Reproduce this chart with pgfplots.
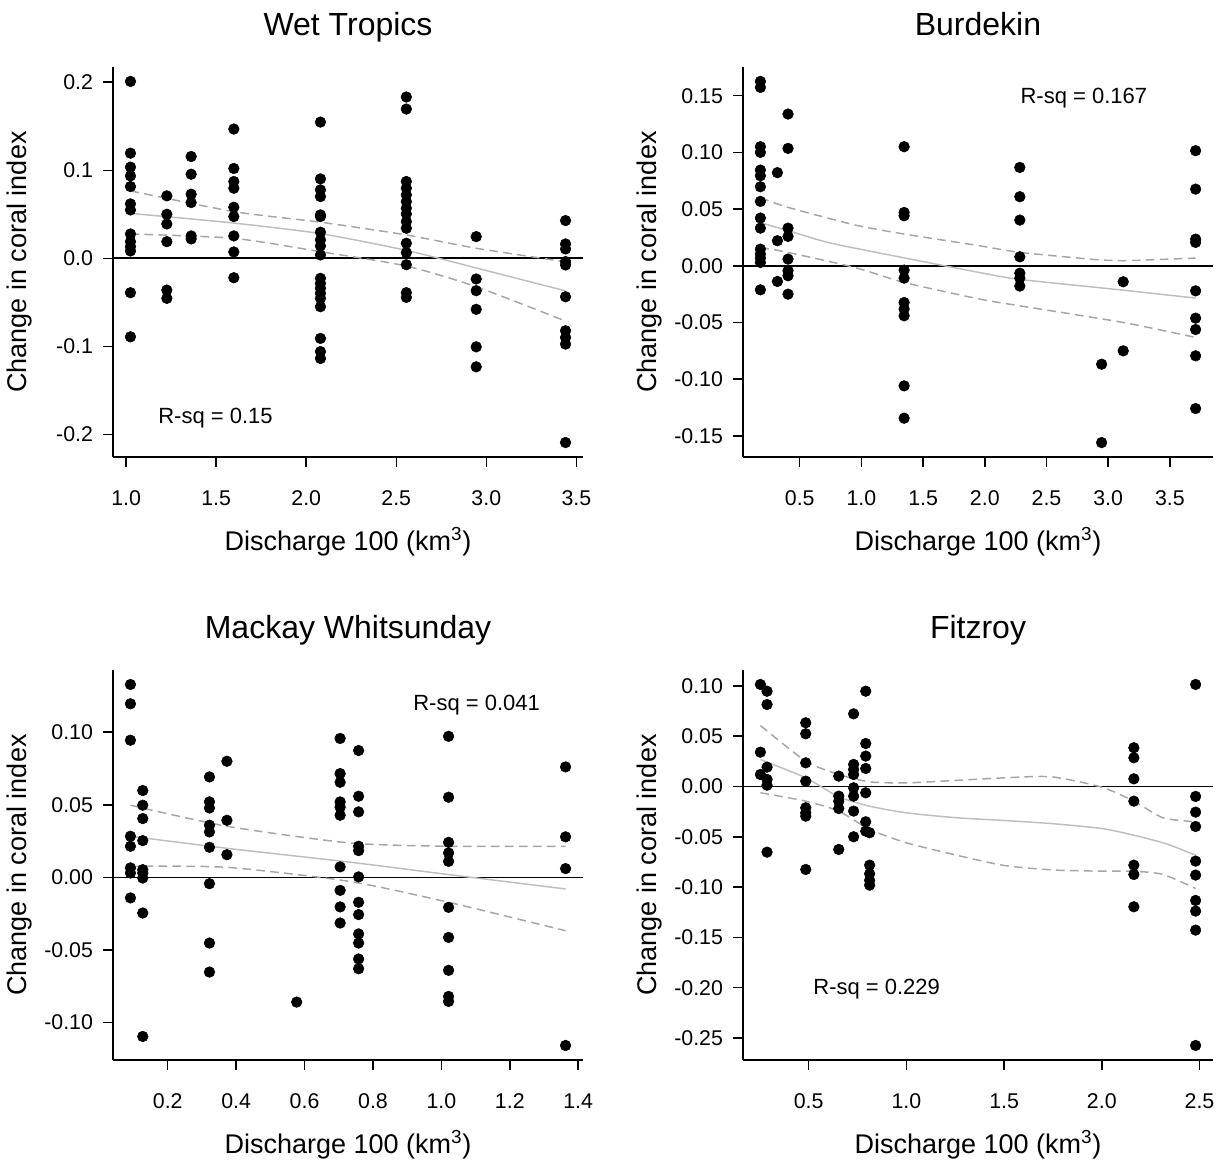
\documentclass[border=0pt]{standalone}
\usepackage{pgfplots}
\pgfplotsset{compat=1.18}
\usepackage{pgfplotstable}
\usepackage{fontspec}
\setmainfont{Liberation Sans}

\definecolor{fitgray}{RGB}{190,190,190}
\definecolor{cigray}{RGB}{165,165,165}

% ---------------- observations: discharge vs change in coral index
\pgfplotstableread{
x y
1.024 0.2009
1.024 0.1194
1.024 0.1035
1.024 0.0936
1.024 0.0815
1.024 0.0618
1.024 0.0549
1.024 0.0276
1.024 0.0189
1.024 0.0132
1.024 0.0083
1.024 -0.0391
1.024 -0.0892
1.226 0.0709
1.226 0.0500
1.226 0.0390
1.226 0.0189
1.226 -0.0361
1.226 -0.0455
1.361 0.1156
1.361 0.0955
1.361 0.0728
1.361 0.0633
1.361 0.0254
1.361 0.0220
1.598 0.1468
1.598 0.1020
1.598 0.0872
1.598 0.0796
1.598 0.0580
1.598 0.0474
1.598 0.0254
1.598 0.0072
1.598 -0.0221
2.079 0.1547
2.079 0.0902
2.079 0.0777
2.079 0.0701
2.079 0.0493
2.079 0.0474
2.079 0.0296
2.079 0.0208
2.079 0.0140
2.079 0.0038
2.079 -0.0228
2.079 -0.0285
2.079 -0.0341
2.079 -0.0398
2.079 -0.0455
2.079 -0.0550
2.079 -0.0910
2.079 -0.1060
2.079 -0.1138
2.556 0.1832
2.556 0.1695
2.556 0.0872
2.556 0.0796
2.556 0.0720
2.556 0.0644
2.556 0.0569
2.556 0.0504
2.556 0.0417
2.556 0.0341
2.556 0.0171
2.556 0.0064
2.556 -0.0073
2.556 -0.0391
2.556 -0.0444
2.944 0.0246
2.944 -0.0235
2.944 -0.0368
2.944 -0.0580
2.944 -0.1006
2.944 -0.1233
3.440 0.0428
3.440 0.0163
3.440 0.0106
3.440 -0.0038
3.440 -0.0076
3.440 -0.0437
3.440 -0.0823
3.440 -0.0899
3.440 -0.0975
3.440 -0.2093
}\wettropics

\pgfplotstableread{
x y
0.181 0.1626
0.181 0.1573
0.181 0.1050
0.181 0.1000
0.181 0.0844
0.181 0.0794
0.181 0.0697
0.181 0.0568
0.181 0.0421
0.181 0.0332
0.181 0.0147
0.181 0.0103
0.181 0.0068
0.181 0.0029
0.181 -0.0212
0.319 0.0821
0.319 0.0221
0.319 -0.0138
0.405 0.1338
0.405 0.1035
0.405 0.0332
0.405 0.0259
0.405 0.0059
0.405 -0.0044
0.405 -0.0088
0.405 -0.0250
1.346 0.1050
1.346 0.0470
1.346 0.0441
1.346 -0.0038
1.346 -0.0109
1.346 -0.0324
1.346 -0.0382
1.346 -0.0441
1.346 -0.1059
1.346 -0.1344
2.284 0.0867
2.284 0.0609
2.284 0.0403
2.284 0.0079
2.284 -0.0065
2.284 -0.0109
2.284 -0.0179
2.947 -0.0868
2.947 -0.1559
3.122 -0.0141
3.122 -0.0750
3.709 0.1015
3.709 0.0676
3.709 0.0235
3.709 0.0206
3.709 -0.0221
3.709 -0.0462
3.709 -0.0562
3.709 -0.0794
3.709 -0.1259
}\burdekin

\pgfplotstableread{
x y
0.091 0.1329
0.091 0.1196
0.091 0.0945
0.091 0.0283
0.091 0.0214
0.091 0.0065
0.091 0.0030
0.091 -0.0142
0.127 0.0598
0.127 0.0497
0.127 0.0405
0.127 0.0253
0.127 0.0053
0.127 0.0030
0.127 -0.0005
0.127 -0.0246
0.127 -0.1097
0.322 0.0692
0.322 0.0520
0.322 0.0478
0.322 0.0359
0.322 0.0313
0.322 0.0207
0.322 -0.0044
0.322 -0.0453
0.322 -0.0653
0.373 0.0800
0.373 0.0393
0.373 0.0156
0.577 -0.0860
0.704 0.0957
0.704 0.0715
0.704 0.0655
0.704 0.0520
0.704 0.0483
0.704 0.0428
0.704 0.0072
0.704 -0.0090
0.704 -0.0204
0.704 -0.0315
0.758 0.0874
0.758 0.0559
0.758 0.0451
0.758 0.0214
0.758 0.0184
0.758 0.0003
0.758 -0.0172
0.758 -0.0257
0.758 -0.0390
0.758 -0.0453
0.758 -0.0563
0.758 -0.0630
1.021 0.0972
1.021 0.0552
1.021 0.0241
1.021 0.0168
1.021 0.0110
1.021 -0.0207
1.021 -0.0414
1.021 -0.0641
1.021 -0.0821
1.021 -0.0855
1.363 0.0761
1.363 0.0279
1.363 0.0060
1.363 -0.1159
}\mackay

\pgfplotstableread{
x y
0.253 0.1014
0.253 0.0341
0.253 0.0119
0.287 0.0947
0.287 0.0815
0.287 0.0192
0.287 0.0070
0.287 0.0013
0.287 -0.0653
0.485 0.0633
0.485 0.0524
0.485 0.0235
0.485 0.0053
0.485 -0.0212
0.485 -0.0262
0.485 -0.0295
0.485 -0.0825
0.654 0.0103
0.654 -0.0096
0.654 -0.0146
0.654 -0.0219
0.654 -0.0626
0.730 0.0722
0.730 0.0219
0.730 0.0169
0.730 0.0119
0.730 -0.0013
0.730 -0.0096
0.730 -0.0245
0.730 -0.0500
0.792 0.0947
0.792 0.0427
0.792 0.0302
0.792 0.0179
0.792 -0.0063
0.792 -0.0351
0.792 -0.0444
0.812 -0.0460
0.812 -0.0782
0.812 -0.0868
0.812 -0.0934
0.812 -0.0981
2.164 0.0385
2.164 0.0285
2.164 0.0076
2.164 -0.0146
2.164 -0.0782
2.164 -0.0875
2.164 -0.1196
2.480 0.1014
2.480 -0.0099
2.480 -0.0255
2.480 -0.0398
2.480 -0.0742
2.480 -0.0881
2.480 -0.1133
2.480 -0.1239
2.480 -0.1428
2.480 -0.2575
}\fitzroy

\pgfplotsset{
  panel/.style={
    scale only axis, width=352.5pt, height=292.5pt,
    axis lines*=left,
    axis line style={line width=1.1pt,-},
    tick align=outside,
    major tick length=7.5pt,
    every tick/.style={black, line width=1.1pt},
    tick label style={font=\fontsize{16}{18}\selectfont},
    xticklabel style={yshift=-14.5pt},
    yticklabel style={xshift=-4pt},
    xlabel={Discharge 100 (km\textsuperscript{3})},
    ylabel={Change in coral index},
    every axis x label/.style={at={(axis description cs:0.5,-0.218)}, anchor=center,
      font=\fontsize{20.25}{24}\selectfont},
    every axis y label/.style={at={(axis description cs:-0.198,0.5)}, rotate=90, anchor=center,
      font=\fontsize{20.25}{24}\selectfont},
    every axis title/.style={at={(axis description cs:0.5,1.08)}, anchor=base,
      font=\fontsize{24}{28}\selectfont},
    clip=false,
  },
  pts/.style={only marks, mark=*, mark size=4pt, black, mark options={draw=black, fill=black}},
  fit/.style={fitgray, line width=1.1pt, smooth, tension=0.4, no marks},
  ci/.style={cigray, line width=1.1pt, dash pattern=on 6.5pt off 4pt, smooth, tension=0.4, no marks},
  zero/.style={black, line width=1.2pt, no marks},
}
\tikzset{rsq/.style={font=\fontsize{16.5}{19}\selectfont, yshift=-2.25pt}}

\begin{document}
\begin{tikzpicture}
\useasboundingbox (0pt,0pt) rectangle (916.5pt,871.5pt);

% Wet Tropics
\begin{axis}[panel, at={(84.75pt,528.75pt)}, anchor=south west,
  title={Wet Tropics},
  xmin=0.927, xmax=3.537, ymin=-0.2257, ymax=0.2173,
  xtick={1,1.5,2,2.5,3,3.5}, xticklabels={1.0,1.5,2.0,2.5,3.0,3.5},
  ytick={-0.2,-0.1,0,0.1,0.2}, yticklabels={-0.2,-0.1,0.0,0.1,0.2}]
  \addplot[zero] coordinates {(0.927,0) (3.537,0)};
  \addplot[fit] coordinates {(1.024,0.051) (1.598,0.040) (2.079,0.028) (2.556,0.009) (2.944,-0.011) (3.44,-0.037)};
  \addplot[ci] coordinates {(1.024,0.0766) (1.598,0.053) (2.079,0.041) (2.556,0.0265) (2.944,0.0114) (3.44,-0.004)};
  \addplot[ci] coordinates {(1.024,0.0276) (1.598,0.0227) (2.079,0.0075) (2.556,-0.0088) (2.944,-0.0323) (3.44,-0.0713)};
  \addplot[pts] table {\wettropics};
  \node[rsq] at (axis cs:1.496,-0.178) {R-sq = 0.15};
\end{axis}

% Burdekin
\begin{axis}[panel, at={(557.25pt,528.75pt)}, anchor=south west,
  title={Burdekin},
  xmin=0.040, xmax=3.850, ymin=-0.1686, ymax=0.1753,
  xtick={0.5,1,1.5,2,2.5,3,3.5}, xticklabels={0.5,1.0,1.5,2.0,2.5,3.0,3.5},
  ytick={-0.15,-0.1,-0.05,0,0.05,0.1,0.15},
  yticklabels={-0.15,-0.10,-0.05,0.00,0.05,0.10,0.15}]
  \addplot[zero] coordinates {(0.040,0) (3.850,0)};
  \addplot[fit] coordinates {(0.181,0.038) (0.405,0.031) (0.75,0.020) (1.346,0.007) (1.96,-0.006) (2.284,-0.012) (3.122,-0.0215) (3.709,-0.0285)};
  \addplot[ci] coordinates {(0.181,0.060) (0.405,0.0515) (0.946,0.036) (1.346,0.028) (1.96,0.0176) (2.284,0.0118) (2.947,0.005) (3.122,0.0044) (3.709,0.0068)};
  \addplot[ci] coordinates {(0.181,0.0162) (0.405,0.0118) (0.946,-0.0015) (1.346,-0.0147) (1.96,-0.0294) (2.284,-0.0353) (3.122,-0.050) (3.709,-0.0632)};
  \addplot[pts] table {\burdekin};
  \node[rsq] at (axis cs:2.803,0.1509) {R-sq = 0.167};
\end{axis}

% Mackay Whitsunday
\begin{axis}[panel, at={(84.75pt,76.5pt)}, anchor=south west,
  title={Mackay Whitsunday},
  xmin=0.040, xmax=1.414, ymin=-0.1259, ymax=0.1429,
  xtick={0.2,0.4,0.6,0.8,1.0,1.2,1.4}, xticklabels={0.2,0.4,0.6,0.8,1.0,1.2,1.4},
  ytick={-0.1,-0.05,0,0.05,0.1}, yticklabels={-0.10,-0.05,0.00,0.05,0.10}]
  \addplot[zero] coordinates {(0.040,0) (1.414,0)};
  \addplot[fit] coordinates {(0.091,0.0283) (0.373,0.020) (0.731,0.0105) (1.021,0.0019) (1.363,-0.008)};
  \addplot[ci] coordinates {(0.091,0.0497) (0.373,0.0352) (0.731,0.0237) (1.021,0.0214) (1.363,0.0214)};
  \addplot[ci] coordinates {(0.091,0.0076) (0.373,0.0069) (0.731,-0.0028) (1.021,-0.0172) (1.363,-0.0368)};
  \addplot[pts] table {\mackay};
  \node[rsq] at (axis cs:1.103,0.1205) {R-sq = 0.041};
\end{axis}

% Fitzroy
\begin{axis}[panel, at={(557.25pt,76.5pt)}, anchor=south west,
  title={Fitzroy},
  xmin=0.164, xmax=2.569, ymin=-0.2719, ymax=0.1158,
  xtick={0.5,1,1.5,2,2.5}, xticklabels={0.5,1.0,1.5,2.0,2.5},
  ytick={-0.25,-0.2,-0.15,-0.1,-0.05,0,0.05,0.1},
  yticklabels={-0.25,-0.20,-0.15,-0.10,-0.05,0.00,0.05,0.10}]
  \addplot[zero] coordinates {(0.164,0) (2.569,0)};
  \addplot[fit] coordinates {(0.253,0.0268) (0.485,0.0086) (0.654,-0.0103) (0.812,-0.0196) (1.0,-0.0262) (1.25,-0.031) (1.5,-0.0338) (1.75,-0.037) (2.0,-0.0418) (2.164,-0.0484) (2.33,-0.057) (2.48,-0.0683)};
  \addplot[ci] coordinates {(0.253,0.0606) (0.485,0.0252) (0.654,0.0119) (0.812,0.0046) (1.0,0.0036) (1.25,0.006) (1.5,0.0086) (1.743,0.0096) (2.0,-0.0007) (2.164,-0.0146) (2.314,-0.0312) (2.48,-0.0351)};
  \addplot[ci] coordinates {(0.253,-0.0063) (0.485,-0.0146) (0.654,-0.0245) (0.812,-0.0427) (1.0,-0.056) (1.25,-0.068) (1.5,-0.0785) (1.75,-0.083) (2.0,-0.0842) (2.164,-0.0842) (2.314,-0.0875) (2.48,-0.1014)};
  \addplot[pts] table {\fitzroy};
  \node[rsq] at (axis cs:0.848,-0.1988) {R-sq = 0.229};
\end{axis}
\end{tikzpicture}
\end{document}
